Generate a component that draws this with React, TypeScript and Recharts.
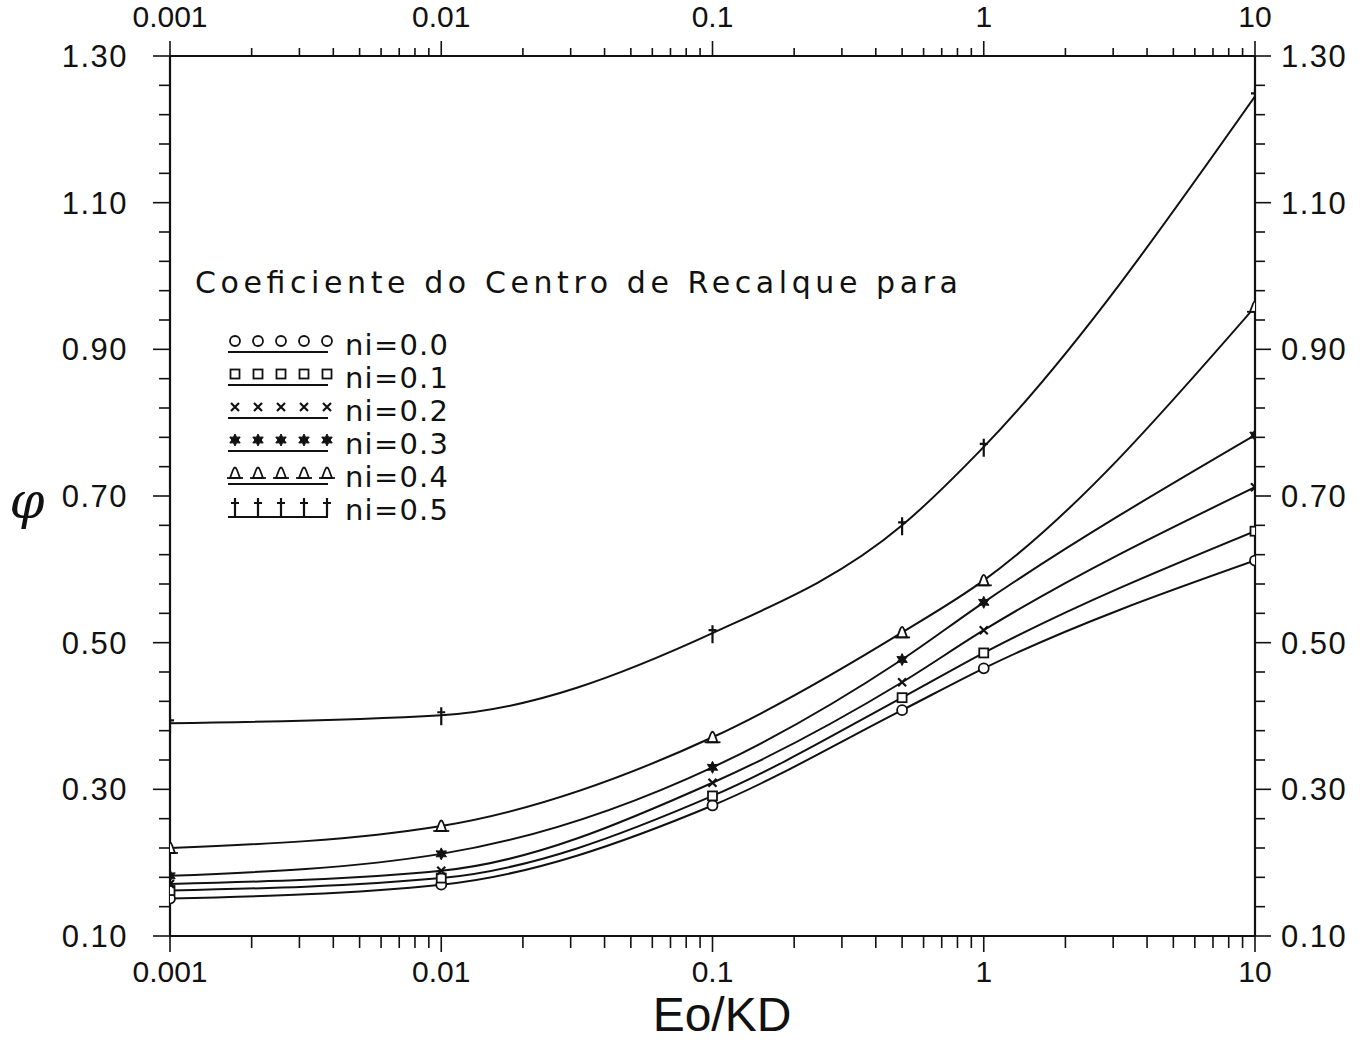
import { LineChart, Line, XAxis, YAxis, Legend, Label } from 'recharts';

// Eo/KD abscissa of every computed point
const eoKd = [0.001, 0.01, 0.1, 0.5, 1, 10];

// coefficient phi, one list per Poisson ratio
const ni00 = [0.151, 0.170, 0.278, 0.408, 0.465, 0.612];
const ni01 = [0.162, 0.179, 0.291, 0.425, 0.486, 0.652];
const ni02 = [0.171, 0.189, 0.309, 0.446, 0.517, 0.712];
const ni03 = [0.182, 0.212, 0.330, 0.477, 0.555, 0.783];
const ni04 = [0.220, 0.250, 0.371, 0.514, 0.585, 0.958];
const ni05 = [0.390, 0.401, 0.513, 0.660, 0.767, 1.245];

const seriesKeys = ['ni00', 'ni01', 'ni02', 'ni03', 'ni04', 'ni05'];
const seriesNames = ['ni=0.0', 'ni=0.1', 'ni=0.2', 'ni=0.3', 'ni=0.4', 'ni=0.5'];
const seriesValues = [ni00, ni01, ni02, ni03, ni04, ni05];
const markerKinds = ['circle', 'square', 'cross', 'star', 'bell', 'dagger'];

const legendTitle = 'Coeficiente do Centro de Recalque para';
const xTitle = 'Eo/KD';
const yTitle = 'φ';

// log axis ticks (every integer multiple of each decade)
const xTicks = [
  0.001, 0.002, 0.003, 0.004, 0.005, 0.006, 0.007, 0.008, 0.009,
  0.01, 0.02, 0.03, 0.04, 0.05, 0.06, 0.07, 0.08, 0.09,
  0.1, 0.2, 0.3, 0.4, 0.5, 0.6, 0.7, 0.8, 0.9,
  1, 2, 3, 4, 5, 6, 7, 8, 9,
  10,
];
const xDecades = [0.001, 0.01, 0.1, 1, 10];
const xDecadeLabels = ['0.001', '0.01', '0.1', '1', '10'];

const yTicks = [
  0.1, 0.14, 0.18, 0.22, 0.26, 0.3, 0.34, 0.38, 0.42, 0.46, 0.5,
  0.54, 0.58, 0.62, 0.66, 0.7, 0.74, 0.78, 0.82, 0.86, 0.9,
  0.94, 0.98, 1.02, 1.06, 1.1, 1.14, 1.18, 1.22, 1.26, 1.3,
];
const yMajor = [0.1, 0.3, 0.5, 0.7, 0.9, 1.1, 1.3];
const yMajorLabels = ['0.10', '0.30', '0.50', '0.70', '0.90', '1.10', '1.30'];

const rows = eoKd.map((x, i) => {
  const row: Record<string, number> = { x };
  seriesKeys.forEach((k, j) => {
    row[k] = seriesValues[j][i];
  });
  return row;
});

const FONT = 'Liberation Sans, Arial, sans-serif';
const WIDE_FONT = 'DejaVu Sans, sans-serif';
const INK = '#111';

const findIndex = (list: number[], v: number) =>
  list.findIndex((d) => Math.abs(d - v) < 1e-9 * Math.max(1, Math.abs(d)) + 1e-9);

function Marker({ kind, cx, cy }: { kind: string; cx: number; cy: number }) {
  const s = { stroke: INK, strokeWidth: 1.8, fill: '#fff' };
  switch (kind) {
    case 'circle':
      return <circle cx={cx} cy={cy} r={5} {...s} />;
    case 'square':
      return <rect x={cx - 4.5} y={cy - 4.5} width={9} height={9} {...s} />;
    case 'cross':
      return (
        <path
          d={`M${cx - 4},${cy - 4}L${cx + 4},${cy + 4}M${cx + 4},${cy - 4}L${cx - 4},${cy + 4}`}
          stroke={INK}
          strokeWidth={2.2}
          fill="none"
        />
      );
    case 'star': {
      const pts: string[] = [];
      for (let i = 0; i < 12; i++) {
        const r = i % 2 === 0 ? 6 : 3.2;
        const a = (Math.PI / 6) * i - Math.PI / 2;
        pts.push(`${cx + r * Math.cos(a)},${cy + r * Math.sin(a)}`);
      }
      return <polygon points={pts.join(' ')} fill={INK} stroke={INK} strokeWidth={1} />;
    }
    case 'bell':
      return (
        <g>
          <path
            d={`M${cx - 5},${cy + 5}L${cx - 2},${cy - 3}Q${cx},${cy - 8} ${cx + 2},${cy - 3}L${cx + 5},${cy + 5}Z`}
            {...s}
          />
          <path d={`M${cx - 8},${cy + 5}L${cx + 8},${cy + 5}`} stroke={INK} strokeWidth={1.8} />
        </g>
      );
    case 'dagger':
      return (
        <path
          d={`M${cx},${cy - 8}L${cx},${cy + 10}M${cx - 4},${cy - 3}L${cx + 4},${cy - 3}`}
          stroke={INK}
          strokeWidth={2.2}
          fill="none"
        />
      );
    default:
      return null;
  }
}

function BottomTick(props: any) {
  const { x, y, payload } = props;
  const i = findIndex(xDecades, payload.value);
  const major = i >= 0;
  return (
    <g>
      <line x1={x} y1={y} x2={x} y2={y + (major ? 16 : 12)} stroke={INK} strokeWidth={1.6} />
      {major && (
        <text x={x} y={y + 46} textAnchor="middle" fontSize={30} fill={INK} fontFamily={FONT}>
          {xDecadeLabels[i]}
        </text>
      )}
    </g>
  );
}

function TopTick(props: any) {
  const { x, y, payload } = props;
  const i = findIndex(xDecades, payload.value);
  const major = i >= 0;
  return (
    <g>
      <line x1={x} y1={y} x2={x} y2={y - (major ? 15 : 8)} stroke={INK} strokeWidth={1.6} />
      {major && (
        <text x={x} y={y - 29} textAnchor="middle" fontSize={30} fill={INK} fontFamily={FONT}>
          {xDecadeLabels[i]}
        </text>
      )}
    </g>
  );
}

function LeftTick(props: any) {
  const { x, y, payload } = props;
  const i = findIndex(yMajor, payload.value);
  const major = i >= 0;
  return (
    <g>
      <line x1={x} y1={y} x2={x - (major ? 17 : 11)} y2={y} stroke={INK} strokeWidth={1.6} />
      {major && (
        <text x={x - 42} y={y + 11} textAnchor="end" fontSize={31} letterSpacing={1.5} fill={INK} fontFamily={FONT}>
          {yMajorLabels[i]}
        </text>
      )}
    </g>
  );
}

function RightTick(props: any) {
  const { x, y, payload } = props;
  const i = findIndex(yMajor, payload.value);
  const major = i >= 0;
  return (
    <g>
      <line x1={x} y1={y} x2={x + (major ? 16 : 10)} y2={y} stroke={INK} strokeWidth={1.6} />
      {major && (
        <text x={x + 26} y={y + 11} textAnchor="start" fontSize={31} letterSpacing={1.5} fill={INK} fontFamily={FONT}>
          {yMajorLabels[i]}
        </text>
      )}
    </g>
  );
}

function LegendBox() {
  return (
    <svg width={800} height={270} style={{ display: 'block', overflow: 'visible' }}>
      <text x={5} y={43} fontSize={30} fill={INK} fontFamily={WIDE_FONT} textLength={763} lengthAdjust="spacing">
        {legendTitle}
      </text>
      {seriesNames.map((name, i) => {
        const cy = 91 + 33 * i;
        return (
          <g key={name}>
            {[0, 1, 2, 3, 4].map((k) => (
              <Marker key={k} kind={markerKinds[i]} cx={45 + 23 * k} cy={cy} />
            ))}
            <line x1={38} y1={cy + 11} x2={138} y2={cy + 11} stroke={INK} strokeWidth={2} />
            <text x={155} y={cy + 14} fontSize={29} fill={INK} fontFamily={WIDE_FONT} textLength={103} lengthAdjust="spacing">
              {name}
            </text>
          </g>
        );
      })}
    </svg>
  );
}

export default function App() {
  return (
    <div style={{ position: 'absolute', left: 0, top: 0, background: '#fff' }}>
      <LineChart
        width={1362}
        height={1043}
        data={rows}
        margin={{ top: 0, right: 0, bottom: 0, left: 0 }}
        style={{ fontFamily: FONT }}
      >
        <XAxis
          xAxisId="bottom"
          dataKey="x"
          type="number"
          scale="log"
          domain={[0.001, 10]}
          ticks={xTicks}
          interval={0}
          allowDataOverflow
          height={107}
          tickSize={0}
          tickMargin={0}
          tickLine={false}
          tick={<BottomTick />}
          axisLine={{ stroke: INK, strokeWidth: 2.2 }}
        >
          <Label
            content={() => (
              <text x={722} y={1031} textAnchor="middle" fontSize={48} fill={INK} fontFamily={FONT}>
                {xTitle}
              </text>
            )}
          />
        </XAxis>
        <XAxis
          xAxisId="top"
          orientation="top"
          dataKey="x"
          type="number"
          scale="log"
          domain={[0.001, 10]}
          ticks={xTicks}
          interval={0}
          allowDataOverflow
          height={56}
          tickSize={0}
          tickMargin={0}
          tickLine={false}
          tick={<TopTick />}
          axisLine={{ stroke: INK, strokeWidth: 2.2 }}
        />
        <YAxis
          yAxisId="left"
          type="number"
          domain={[0.1, 1.3]}
          ticks={yTicks}
          interval={0}
          allowDataOverflow
          width={170}
          tickSize={0}
          tickMargin={0}
          tickLine={false}
          tick={<LeftTick />}
          axisLine={{ stroke: INK, strokeWidth: 2.2 }}
        >
          <Label
            content={() => (
              <text x={27} y={518} textAnchor="middle" fontSize={50} fontStyle="italic" fill={INK} fontFamily="DejaVu Serif, serif">
                {yTitle}
              </text>
            )}
          />
        </YAxis>
        <YAxis
          yAxisId="right"
          orientation="right"
          type="number"
          domain={[0.1, 1.3]}
          ticks={yTicks}
          interval={0}
          allowDataOverflow
          width={107}
          tickSize={0}
          tickMargin={0}
          tickLine={false}
          tick={<RightTick />}
          axisLine={{ stroke: INK, strokeWidth: 2.2 }}
        />
        <Legend
          layout="horizontal"
          verticalAlign="middle"
          align="center"
          content={() => <LegendBox />}
          wrapperStyle={{ position: 'absolute', left: 190, top: 250, width: 800, height: 270 }}
        />
        {seriesKeys.map((k, i) => (
          <Line
            key={k}
            xAxisId="bottom"
            yAxisId="left"
            dataKey={k}
            name={seriesNames[i]}
            type="monotone"
            stroke={INK}
            strokeWidth={2}
            isAnimationActive={false}
            dot={(p: any) => <Marker key={`${k}-${p.index}`} kind={markerKinds[i]} cx={p.cx} cy={p.cy} />}
            activeDot={false}
          />
        ))}
      </LineChart>
    </div>
  );
}
